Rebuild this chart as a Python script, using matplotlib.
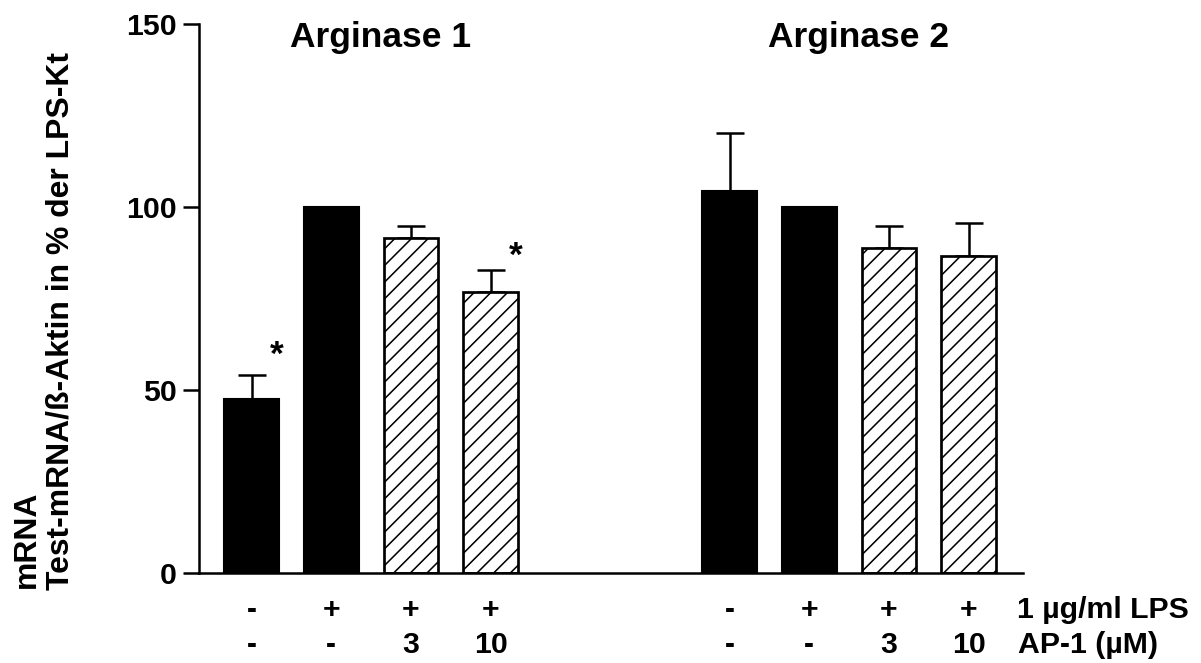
import matplotlib
matplotlib.use("Agg")
import matplotlib.pyplot as plt
import numpy as np

plt.rcParams["font.family"] = ["Liberation Sans", "DejaVu Sans"]
plt.rcParams["font.weight"] = "bold"
plt.rcParams["hatch.linewidth"] = 0.75

# data
groups = ["Arginase 1", "Arginase 2"]
group_centers = [1.5, 7.5]
positions = [0, 1, 2, 3, 6, 7, 8, 9]
means = [47.6, 100, 91.5, 76.8, 104.5, 100, 88.8, 86.7]
sem = [6.4, 0, 3.3, 6.0, 15.6, 0, 6.1, 9.0]
hatched = [False, False, True, True, False, False, True, True]
lps_labels = ["-", "+", "+", "+", "-", "+", "+", "+"]
ap1_labels = ["-", "-", "3", "10", "-", "-", "3", "10"]
row_names = ["1 µg/ml LPS", "AP-1 (µM)"]
star_bars = [0, 3]
star_y = [57, 84]
yticks = [0, 50, 100, 150]

fig = plt.figure(figsize=(1201 / 150, 663 / 150), dpi=150)
ax = fig.add_axes([0.1657, 0.1357, 0.6865, 0.828])

for x, m, h in zip(positions, means, hatched):
    if h:
        ax.bar(x, m, width=0.68, facecolor="white", edgecolor="black",
               hatch="///", linewidth=1.3, zorder=2)
    else:
        ax.bar(x, m, width=0.69, color="black", edgecolor="black",
               linewidth=1.0, zorder=2)

err_idx = [i for i, s in enumerate(sem) if s > 0]
ax.errorbar([positions[i] for i in err_idx], [means[i] for i in err_idx],
            yerr=[np.zeros(len(err_idx)), [sem[i] for i in err_idx]],
            fmt="none", ecolor="black", elinewidth=1.2, capsize=6.5,
            capthick=1.2, zorder=1)

for i, y in zip(star_bars, star_y):
    ax.text(positions[i] + 0.32, y, "*", ha="center", va="baseline",
            fontsize=17, fontweight="bold")

for name, cx in zip(groups, group_centers):
    ax.text(cx + 0.12, 143.6, name, ha="center", va="baseline",
            fontsize=17, fontweight="bold")

trans = ax.get_xaxis_transform()
row_y = [-0.082, -0.146]
for labels, ry in zip([lps_labels, ap1_labels], row_y):
    for x, lab in zip(positions, labels):
        ax.text(x, ry, lab, transform=trans, ha="center", va="baseline",
                fontsize=14.5, fontweight="bold", clip_on=False)
for name, ry, xoff in zip(row_names, row_y, [9.61, 9.62]):
    ax.text(xoff, ry, name, transform=trans, ha="left", va="baseline",
            fontsize=14.5, fontweight="bold", clip_on=False)

ax.set_xlim(-0.66, 9.69)
ax.set_ylim(0, 150)
ax.set_yticks(yticks)
ax.set_xticks([])
for lab in ax.get_yticklabels():
    lab.set_fontweight("bold")
ax.tick_params(axis="y", length=7.7, width=1.2, pad=2.9, labelsize=14.5)
ax.spines["top"].set_visible(False)
ax.spines["right"].set_visible(False)
ax.spines["left"].set_linewidth(1.2)
ax.spines["bottom"].set_linewidth(1.2)

fig.text(27 / 1201, 1 - 588 / 663, "mRNA", rotation=90, ha="center",
         va="bottom", fontsize=15.3, fontweight="bold")
fig.text(61 / 1201, 1 - 590 / 663, "Test-mRNA/ß-Aktin in % der LPS-Kt",
         rotation=90, ha="center", va="bottom", fontsize=15.3, fontweight="bold")

fig.savefig("out.png", dpi=150)
